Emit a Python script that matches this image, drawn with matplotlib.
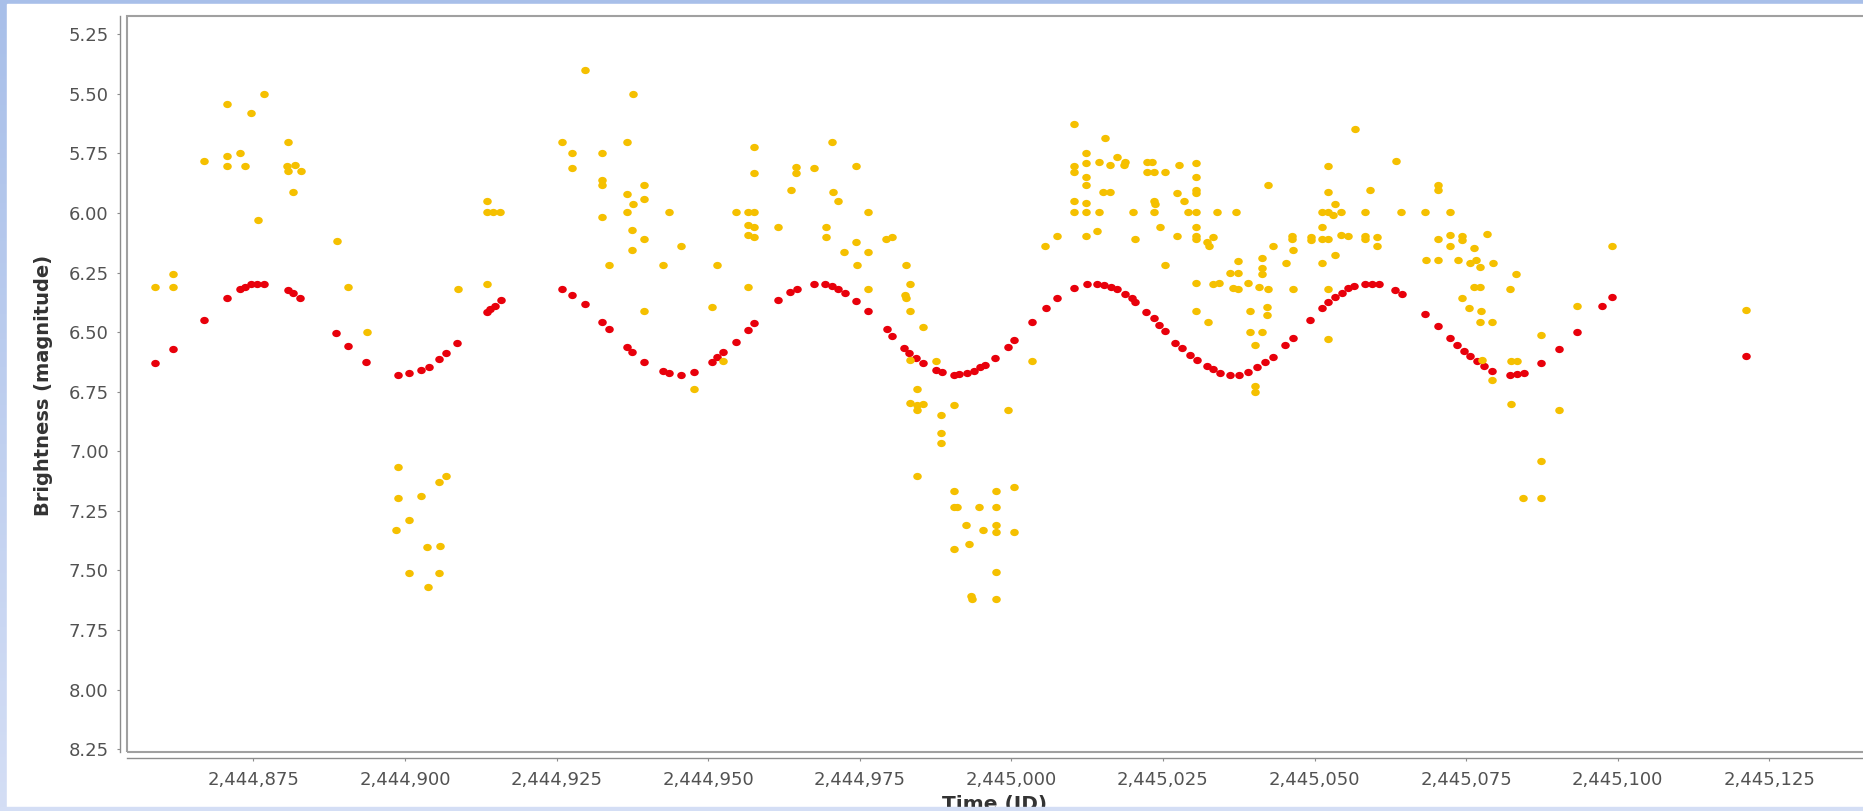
import numpy as np
import matplotlib
matplotlib.use("Agg")
import matplotlib.pyplot as plt
from matplotlib.patches import Rectangle
from matplotlib.path import Path
from matplotlib.transforms import Affine2D
from matplotlib.ticker import FuncFormatter, FixedLocator

# time is given in days after JD0
JD0 = 2444800

# red: model light curve
model_t = [58.8, 61.8, 66.8, 70.7, 72.8, 73.7, 74.7, 75.6, 76.7, 80.8, 81.6, 82.7,
           88.7, 90.6, 93.6, 98.8, 100.7, 102.6, 103.9, 105.6, 106.8, 108.6, 113.5,
           114.0, 114.8, 115.8, 125.9, 127.6, 129.7, 132.5, 133.6, 136.6, 137.4,
           139.5, 142.6, 143.5, 145.5, 147.7, 150.6, 151.4, 152.5, 154.6, 156.5,
           157.6, 161.5, 163.5, 164.6, 167.4, 169.3, 170.4, 171.5, 172.5, 174.4,
           176.4, 179.5, 180.4, 182.3, 183.2, 184.3, 185.4, 187.6, 188.6, 190.5,
           191.4, 192.7, 193.8, 194.9, 195.7, 197.3, 199.4, 200.5, 203.4, 205.7,
           207.5, 210.3, 212.5, 214.1, 215.3, 216.4, 217.4, 218.8, 219.9, 220.4,
           222.2, 223.5, 224.4, 225.4, 227.0, 228.1, 229.5, 230.7, 232.2, 233.3,
           234.4, 236.1, 237.5, 239.1, 240.5, 241.9, 243.1, 245.2, 246.5, 249.3,
           251.2, 252.3, 253.4, 254.5, 255.6, 256.5, 258.4, 259.5, 260.6, 263.3,
           264.4, 268.3, 270.3, 272.3, 273.5, 274.6, 275.7, 276.8, 277.9, 279.3,
           282.3, 283.4, 284.5, 287.4, 290.3, 293.3, 297.4, 299.1, 321.1]
model_mag = [6.63, 6.57, 6.45, 6.355, 6.318, 6.309, 6.299, 6.296, 6.296, 6.322, 6.337, 6.358,
             6.505, 6.558, 6.625, 6.68, 6.673, 6.659, 6.645, 6.613, 6.586, 6.544, 6.417,
             6.403, 6.389, 6.365, 6.318, 6.343, 6.383, 6.456, 6.485, 6.561, 6.585,
             6.624, 6.663, 6.67, 6.68, 6.666, 6.624, 6.603, 6.582, 6.54, 6.491,
             6.46, 6.365, 6.332, 6.318, 6.298, 6.298, 6.306, 6.32, 6.334, 6.368,
             6.413, 6.487, 6.515, 6.565, 6.589, 6.61, 6.631, 6.659, 6.668, 6.68,
             6.677, 6.67, 6.661, 6.647, 6.638, 6.61, 6.561, 6.533, 6.459, 6.397,
             6.358, 6.314, 6.298, 6.298, 6.302, 6.309, 6.318, 6.34, 6.358, 6.372,
             6.417, 6.442, 6.47, 6.495, 6.544, 6.568, 6.596, 6.617, 6.642, 6.656,
             6.67, 6.68, 6.68, 6.666, 6.645, 6.624, 6.603, 6.554, 6.526, 6.449,
             6.4, 6.372, 6.351, 6.334, 6.316, 6.305, 6.298, 6.298, 6.298, 6.322,
             6.339, 6.424, 6.474, 6.526, 6.554, 6.578, 6.6, 6.62, 6.642, 6.661,
             6.68, 6.676, 6.673, 6.631, 6.572, 6.498, 6.39, 6.351, 6.6]

# yellow: visual observations
obs_t = [58.8, 61.8, 61.8, 66.8, 70.7, 70.7, 70.7, 72.8, 73.7, 74.7, 75.8, 76.8,
         80.8, 80.6, 80.8, 81.8, 82.8, 81.6, 88.8, 90.6, 93.7, 108.7, 113.5, 113.5,
         114.6, 115.7, 113.5, 129.7, 125.9, 127.6, 127.6,
         98.8, 106.8, 105.6, 98.8, 102.6, 100.7, 98.6, 103.7, 105.8, 100.7, 105.6, 103.8,
         132.5, 132.5, 132.5, 132.5, 133.6, 136.6, 137.6, 136.7, 137.6, 136.6, 139.5,
         139.5, 137.5, 139.5, 137.5, 139.5, 142.6, 143.5, 145.5, 150.6, 151.5, 152.5,
         147.7, 154.6, 156.5, 157.6, 156.5, 157.6, 156.5, 157.6, 156.5, 157.5, 157.5,
         161.6, 163.6, 164.5, 164.5, 167.4, 170.4, 170.6, 171.4, 169.5, 169.5, 174.4,
         176.4, 172.4, 174.4, 176.4, 174.5, 176.4, 179.4, 180.3, 182.7, 183.3, 182.5,
         182.7, 183.3, 185.5, 183.3, 187.5, 184.4, 183.3, 184.4, 185.5, 184.4, 188.4,
         190.5, 199.4, 203.4, 205.6,
         188.4, 188.4, 184.4, 190.6, 190.5, 191.0, 194.7, 197.4, 197.4, 200.5, 192.5,
         195.4, 197.4, 197.5, 200.5, 190.5, 193.1, 197.4, 193.3, 193.5, 197.4,
         207.5, 210.4, 210.4, 210.4, 210.4, 210.4, 212.3, 212.3, 212.3, 212.3, 212.3,
         212.3, 212.3, 214.1, 214.4, 214.4, 215.4, 215.2, 216.3, 216.3, 217.4, 218.6,
         218.8, 220.1, 220.4, 222.3, 223.2, 222.3, 223.5, 223.5, 223.7, 223.5, 224.5,
         225.3, 227.6, 227.4, 228.4, 230.4, 230.4, 230.4, 230.4, 229.2, 230.4, 230.4,
         230.4, 230.4, 227.4, 232.2, 233.3, 232.6, 234.0, 237.0, 225.3, 230.4, 233.3,
         234.3, 236.1, 237.3, 237.3, 236.6, 237.3, 239.1, 241.3, 241.3, 241.3, 240.8,
         242.4, 243.1, 242.4, 230.4, 232.4, 239.4, 242.1, 242.1, 239.4, 241.3, 240.2,
         240.2, 240.2, 245.3, 246.3, 246.3, 246.4, 246.4, 249.4, 249.4, 251.3, 251.3,
         252.2, 251.3, 252.2, 252.2, 251.2, 252.2, 253.1, 253.4, 252.2, 252.2, 254.4,
         253.4, 254.4, 255.5, 256.6, 258.3, 258.3, 258.3, 259.1, 260.3, 260.3, 263.4,
         264.3, 268.3, 270.3, 270.3, 272.3, 268.4, 270.3, 270.3, 272.3, 272.3, 274.3,
         274.3, 273.6, 276.3, 275.7, 276.6, 277.3, 278.4, 279.4, 276.3, 277.3, 274.3,
         275.4, 277.5, 277.3, 279.3, 277.6, 279.3,
         283.3, 282.3, 282.4, 283.4, 282.4, 287.4, 290.3, 293.3, 299.1, 321.1,
         287.4, 284.3, 287.4]
obs_mag = [6.312, 6.257, 6.312, 5.78, 5.541, 5.761, 5.803, 5.75, 5.803, 5.582, 6.03, 5.5,
           5.702, 5.803, 5.823, 5.8, 5.823, 5.91, 6.117, 6.312, 6.499, 6.318, 5.95, 5.996,
           5.996, 5.996, 6.297, 5.4, 5.702, 5.75, 5.809,
           7.067, 7.102, 7.127, 7.194, 7.187, 7.288, 7.33, 7.4, 7.397, 7.509, 7.509, 7.57,
           5.75, 5.862, 5.883, 6.018, 6.219, 5.702, 5.5, 5.921, 5.963, 5.996, 5.883,
           5.943, 6.071, 6.11, 6.155, 6.411, 6.219, 5.996, 6.137, 6.396, 6.219, 6.619,
           6.738, 5.996, 5.996, 5.996, 6.05, 6.057, 6.092, 6.099, 6.309, 5.722, 5.83,
           6.057, 5.903, 5.806, 5.83, 5.809, 5.702, 5.91, 5.95, 6.057, 6.099, 5.803,
           5.996, 6.164, 6.123, 6.164, 6.217, 6.318, 6.11, 6.099, 6.217, 6.297, 6.344,
           6.358, 6.411, 6.48, 6.617, 6.619, 6.74, 6.799, 6.806, 6.801, 6.826, 6.848,
           6.806, 6.826, 6.619, 6.137,
           6.922, 6.966, 7.102, 7.168, 7.235, 7.235, 7.235, 7.168, 7.235, 7.148, 7.309,
           7.33, 7.309, 7.337, 7.337, 7.41, 7.39, 7.508, 7.608, 7.622, 7.621,
           6.096, 5.628, 5.803, 5.827, 5.949, 5.996, 5.75, 5.792, 5.848, 5.883, 5.959,
           5.996, 6.097, 6.074, 5.996, 5.784, 5.687, 5.91, 5.91, 5.799, 5.764, 5.8,
           5.784, 5.996, 6.11, 5.784, 5.784, 5.827, 5.827, 5.949, 5.963, 5.996, 6.057,
           5.827, 5.8, 5.917, 5.949, 5.789, 5.848, 5.903, 5.917, 5.996, 5.996, 6.057,
           6.097, 6.11, 6.097, 6.12, 6.099, 6.137, 5.996, 5.996, 6.218, 6.293, 6.296,
           6.293, 6.253, 6.253, 6.2, 6.316, 6.318, 6.293, 6.187, 6.229, 6.254, 6.309,
           6.318, 6.137, 5.883, 6.411, 6.459, 6.411, 6.393, 6.428, 6.501, 6.501, 6.554,
           6.725, 6.753, 6.211, 6.11, 6.096, 6.155, 6.318, 6.099, 6.113, 6.057, 6.11,
           6.11, 6.211, 6.318, 6.53, 5.996, 5.996, 6.01, 5.963, 5.91, 5.801, 5.996,
           6.178, 6.092, 6.096, 5.648, 5.996, 6.096, 6.11, 5.903, 6.099, 6.137, 5.782,
           5.996, 5.996, 5.883, 5.903, 5.996, 6.197, 6.197, 6.11, 6.092, 6.137, 6.096,
           6.113, 6.197, 6.146, 6.211, 6.197, 6.225, 6.089, 6.211, 6.312, 6.312, 6.358,
           6.4, 6.411, 6.459, 6.459, 6.617, 6.701,
           6.257, 6.318, 6.619, 6.619, 6.801, 6.512, 6.826, 6.39, 6.137, 6.409,
           7.042, 7.198, 7.198]

x_ticks = [2444875, 2444900, 2444925, 2444950, 2444975, 2445000,
           2445025, 2445050, 2445075, 2445100, 2445125]
y_ticks = [5.25, 5.5, 5.75, 6.0, 6.25, 6.5, 6.75, 7.0, 7.25, 7.5, 7.75, 8.0, 8.25]

W, H = 1863, 811
fig = plt.figure(figsize=(W / 100, H / 100), dpi=100)

# light blue slide background with white panel
bg = fig.add_axes([0, 0, 1, 1], zorder=-10)
top_c = np.array([168, 191, 233]) / 255
bot_c = np.array([212, 222, 245]) / 255
grad = np.linspace(0, 1, 256)[:, None, None]
bg.imshow(top_c * (1 - grad) + bot_c * grad, extent=[0, 1, 0, 1], aspect="auto")
bg.add_patch(Rectangle((7 / W, 4 / H), 1, 1 - 8 / H, color="white"))
bg.set_xlim(0, 1)
bg.set_ylim(0, 1)
bg.axis("off")

left_px, top_px, bottom_px = 126.7, 15.5, 751.5
ax = fig.add_axes([left_px / W, (H - bottom_px) / H, 1 - left_px / W, (bottom_px - top_px) / H])
ax.set_facecolor("white")

ell = Path.unit_circle().transformed(Affine2D().scale(1.0, 0.85))
ax.scatter(JD0 + np.array(model_t), model_mag, s=38, marker=ell, color="#e8000b",
           linewidths=0, zorder=3)
ax.scatter(JD0 + np.array(obs_t), obs_mag, s=38, marker=ell, color="#f5c000",
           linewidths=0, zorder=4)

ax.set_xlim(2444854.12, 2445140.45)
ax.set_ylim(8.26, 5.171)

ax.xaxis.set_major_locator(FixedLocator(x_ticks))
ax.yaxis.set_major_locator(FixedLocator(y_ticks))
ax.xaxis.set_major_formatter(FuncFormatter(lambda v, p: f"{v:,.0f}"))
ax.yaxis.set_major_formatter(FuncFormatter(lambda v, p: f"{v:.2f}"))

# frame around the data area, axis lines set slightly outside
for s in ["top", "right"]:
    ax.spines[s].set_visible(False)
ax.spines["left"].set_position(("outward", 5.0))
ax.spines["bottom"].set_position(("outward", 4.7))
for s in ["left", "bottom"]:
    ax.spines[s].set_color("#8c8c8c")
    ax.spines[s].set_linewidth(1.0)
ax.add_patch(Rectangle((0, 0), 1.02, 1, transform=ax.transAxes, fill=False,
                       edgecolor="#a0a0a0", linewidth=1.5, clip_on=False, zorder=5))

ax.tick_params(axis="both", direction="out", length=2.5, width=0.8, color="#8c8c8c",
               labelsize=13, labelcolor="#525252")
ax.tick_params(axis="y", pad=5.4)
ax.tick_params(axis="x", pad=6.5)

fig.text(44 / W, 1 - 385 / H, "Brightness (magnitude)", rotation=90, ha="center",
         va="center", fontsize=14, fontweight="bold", color="#333333", zorder=3)
fig.text((left_px + W) / 2 / W, 1 - 795 / H, "Time (JD)", ha="center", va="top",
         fontsize=14.5, fontweight="bold", color="#333333", zorder=3)

# bottom strip of the slide background covers the cut-off axis title
fig.add_artist(Rectangle((0, 0), 1, 4 / H, transform=fig.transFigure,
                         color=bot_c, zorder=6))

fig.savefig("out.png", dpi=100)
